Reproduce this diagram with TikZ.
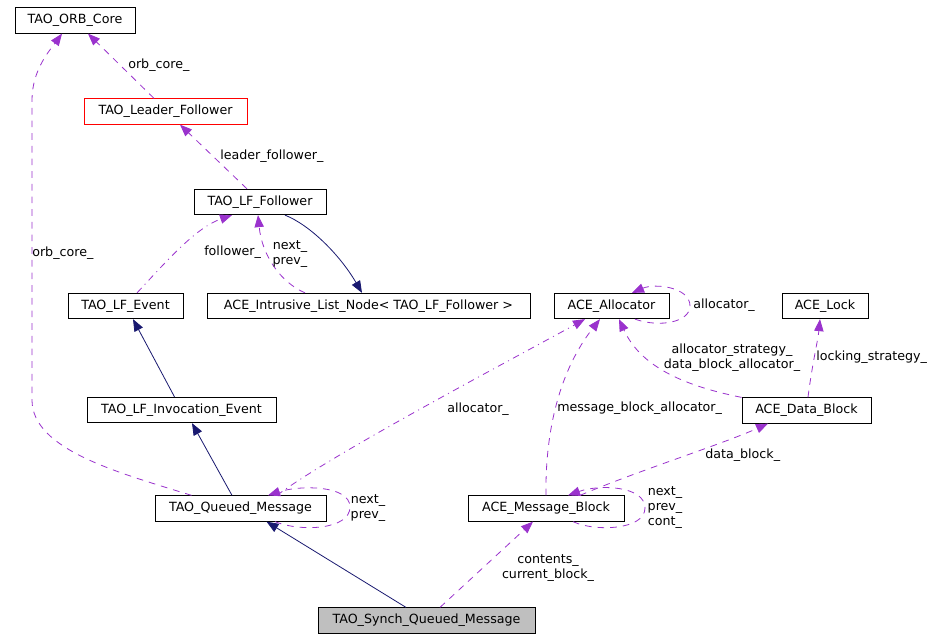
\documentclass[tikz,border=0pt]{standalone}
\usepackage{fontspec}
\setmainfont{DejaVu Sans}
\usetikzlibrary{arrows.meta,calc}
\definecolor{purp}{HTML}{9A32CD}
\definecolor{navyb}{HTML}{191970}
\begin{document}
\begin{tikzpicture}[x=0.75pt,y=-0.75pt,
  box/.style={draw=black,line width=0.7pt,inner sep=0pt,minimum height=19pt,font=\fontsize{9.5}{11}\selectfont,fill=white},
  lbl/.style={inner sep=0pt,font=\fontsize{9.5}{11.25}\selectfont},
  use/.style={draw=purp,line width=0.6pt,dash pattern=on 5pt off 4.5pt,-{Triangle[length=9pt,width=7pt,color=purp]}},
  usedot/.style={use,dash pattern=on 5pt off 3.5pt on 0.8pt off 3.5pt},
  inh/.style={draw=navyb,line width=0.6pt,-{Triangle[length=9pt,width=7pt,color=navyb]}},
]
\useasboundingbox (0,0) rectangle (947,640);
\fill[white] (0,0) rectangle (947,640);

% nodes
\node[box,minimum width=90pt] (orb) at (75,20.5) {TAO\_ORB\_Core};
\node[box,draw=red,minimum width=122.25pt] (lead) at (165.5,111.5) {TAO\_Leader\_Follower};
\node[box,minimum width=99pt] (fol) at (260,202) {TAO\_LF\_Follower};
\node[box,minimum width=242.25pt] (ilist) at (368.5,306) {ACE\_Intrusive\_List\_Node< TAO\_LF\_Follower >};
\node[box,minimum width=86.25pt] (lfev) at (125.5,306) {TAO\_LF\_Event};
\node[box,minimum width=86.25pt] (alloc) at (611.5,306) {ACE\_Allocator};
\node[box,minimum width=64.5pt] (lock) at (825,306) {ACE\_Lock};
\node[box,minimum width=141.75pt] (inv) at (181.5,410) {TAO\_LF\_Invocation\_Event};
\node[box,minimum width=96.75pt] (dblock) at (806.5,410.5) {ACE\_Data\_Block};
\node[box,minimum width=128.25pt] (qmsg) at (240.5,508.5) {TAO\_Queued\_Message};
\node[box,minimum width=117pt] (mblock) at (546,508.5) {ACE\_Message\_Block};
\node[box,fill={rgb,255:red,191;green,191;blue,191},minimum width=162.75pt] (synch) at (426.5,620.5) {TAO\_Synch\_Queued\_Message};

% edges
\draw[use] ($(lead.north)+(-11.5,0)$) -- ($(orb.south)+(13,0)$);
\draw[use] ($(fol.north)+(-13,0)$) -- ($(lead.south)+(14.5,0)$);
\draw[usedot] ($(lfev.north)+(11.5,0)$) .. controls (165,263) and (195,228) .. ($(fol.south)+(-28,0)$);
\draw[use] ($(ilist.north)+(-63.5,0)$) .. controls (280,282) and (262,255) .. ($(fol.south)+(-2,0)$);
\draw[inh] ($(fol.south)+(25,0)$) .. controls (310,225) and (340,255) .. ($(ilist.north)+(-6.5,0)$);
\draw[inh] ($(inv.north)+(-7,0)$) -- ($(lfev.south)+(7.5,0)$);
\draw[inh] ($(qmsg.north)+(-8.5,0)$) -- ($(inv.south)+(10.5,0)$);
\draw[inh] ($(synch.north)+(-20.5,0)$) -- ($(qmsg.south)+(26,0)$);
\draw[use] ($(synch.north)+(13.5,0)$) -- ($(mblock.south)+(-13,0)$);
\draw[use] ($(qmsg.north)+(-49,0)$) .. controls (120,473) and (32,450) .. (32,400) -- (32,100) .. controls (32,70) and (50,50) .. ($(orb.south)+(-13,0)$);
\draw[usedot] ($(qmsg.north)+(36.5,0)$) .. controls (330,455) and (520,355) .. ($(alloc.south)+(-26.5,0)$);
\draw[use] ($(qmsg.south)+(34.5,0)$) .. controls (300,532) and (350,530) .. (350,507) .. controls (350,485) and (300,485) .. ($(qmsg.north)+(27.5,0)$);
\draw[use] (mblock.north) .. controls (545,430) and (560,370) .. ($(alloc.south)+(-11.5,0)$);
\draw[use] (dblock.north west) .. controls (680,385) and (640,365) .. ($(alloc.south)+(7.5,0)$);
\draw[use] ($(dblock.north)+(1.5,0)$) .. controls (812,365) and (818,340) .. ($(lock.south)+(-5,0)$);
\draw[use] ($(mblock.north)+(34,0)$) .. controls (640,470) and (720,445) .. ($(dblock.south)+(-38.5,0)$);
\draw[use] ($(mblock.south)+(27,0)$) .. controls (595,532) and (645,530) .. (645,508) .. controls (645,486) and (600,484) .. ($(mblock.north)+(22,0)$);
\draw[use] ($(alloc.south)+(23.5,0)$) .. controls (660,328) and (690,322) .. (690,306) .. controls (690,287) and (655,283) .. ($(alloc.north)+(20.5,0)$);

% labels
\node[lbl,anchor=west] (l1) at (128,65) {orb\_core\_};
\node[lbl,anchor=west] (l2) at (220,156) {leader\_follower\_};
\node[lbl,anchor=west] (l3) at (204,252) {follower\_};
\node[lbl,align=center] (l4) at (290,254) {next\_\\prev\_};
\node[lbl,anchor=west] (l5) at (32,253) {orb\_core\_};
\node[lbl,anchor=west] (l6) at (447,409) {allocator\_};
\node[lbl,anchor=west] (l7) at (557,408) {message\_block\_allocator\_};
\node[lbl,align=center] (l8) at (732,358) {allocator\_strategy\_\\data\_block\_allocator\_};
\node[lbl,anchor=west] (l9) at (816,357) {locking\_strategy\_};
\node[lbl,anchor=west] (l10) at (705,455) {data\_block\_};
\node[lbl,align=center] (l11) at (665,508) {next\_\\prev\_\\cont\_};
\node[lbl,align=center] (l12) at (368,508) {next\_\\prev\_};
\node[lbl,align=center] (l13) at (548,568) {contents\_\\current\_block\_};
\node[lbl,anchor=west] (l14) at (693,305) {allocator\_};
\end{tikzpicture}
\end{document}
